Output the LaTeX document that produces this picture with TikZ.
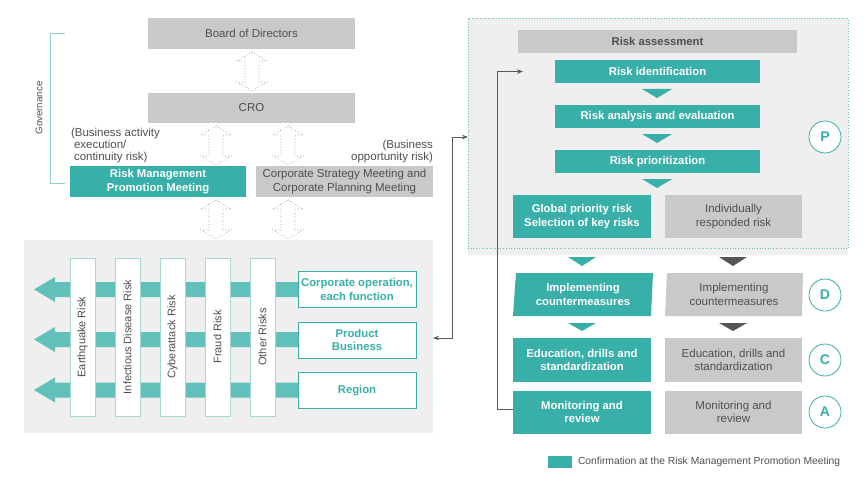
\documentclass[tikz,border=0pt]{standalone}
\usepackage{fontspec}
\setmainfont{Liberation Sans}
\usetikzlibrary{arrows.meta,calc}
\definecolor{teal1}{HTML}{38AFA8}
\definecolor{teallt}{HTML}{62C0BA}
\definecolor{boxgray}{HTML}{C9C9C9}
\definecolor{panelgray}{HTML}{EFEFEF}
\definecolor{txtgray}{HTML}{4F4F4F}
\definecolor{darktri}{HTML}{555555}
\definecolor{barline}{HTML}{A8D8D5}
\definecolor{govline}{HTML}{8FCFCB}
\definecolor{arrgray}{HTML}{9A9A9A}
\definecolor{conngray}{HTML}{5A5A5A}
\newcommand\fsA{\fontsize{11.5}{13.5}\selectfont}
\newcommand\fsT{\fontsize{11.3}{13.5}\selectfont}
\newcommand\fsN{\fontsize{11.5}{12}\selectfont}
\newcommand\fsB{\fontsize{11}{13}\selectfont}
\newcommand\fsC{\fontsize{14}{16}\selectfont}
\newcommand\fsG{\fontsize{9.7}{11}\selectfont}
\newcommand\fsL{\fontsize{10.3}{11}\selectfont}
\newcommand\mydarr[3]{\draw[darr] (#1,#2) -- (#1+15,#2+9) -- (#1+7,#2+9) -- (#1+7,#3-9) -- (#1+15,#3-9) -- (#1,#3) -- (#1-15,#3-9) -- (#1-7,#3-9) -- (#1-7,#2+9) -- (#1-15,#2+9) -- cycle;}
\begin{document}
\begin{tikzpicture}[x=1pt,y=-1pt,
 every node/.style={inner sep=0pt, outer sep=0pt, align=center},
 tbox/.style={fill=teal1, text=white, font=\bfseries\fsT},
 gbox/.style={fill=boxgray, text=txtgray, font=\fsA},
 wbox/.style={fill=white, draw=teal1, line width=0.8pt, text=teal1, font=\bfseries\fsT, minimum width=118pt, minimum height=36pt},
 bar/.style={fill=white, draw=barline, line width=0.8pt, text=txtgray, font=\fsB, rotate=90, minimum width=158pt, minimum height=25pt},
 circ/.style={circle, fill=white, draw=teal1, line width=0.8pt, minimum size=32pt, text=teal1, font=\bfseries\fsC},
 darr/.style={draw=arrgray, dotted, line width=0.7pt},
 conn/.style={draw=conngray, line width=0.8pt, -{Stealth[length=6pt,width=4.5pt]}},
 harr/.style={fill=teallt},
]
\useasboundingbox (0,0) rectangle (868,487);

% ---------- left: governance ----------
\node[gbox, minimum width=207pt, minimum height=31pt] (bod) at (251.5,33.5) {Board of Directors};
\node[gbox, minimum width=207pt, minimum height=30pt] (cro) at (251.5,108) {CRO};
\node[tbox, minimum width=176pt, minimum height=31pt] (rmpm) at (158,181.5) {Risk Management\\Promotion Meeting};
\node[gbox, minimum width=177pt, minimum height=31pt] (csm) at (344.5,181.5) {Corporate Strategy Meeting and\\Corporate Planning Meeting};
\node[font=\fsN, text=txtgray, align=left, anchor=north west] (ann1) at (71,128) {(Business activity\\\hspace*{3pt}execution/\\\hspace*{3pt}continuity risk)};
\node[font=\fsN, text=txtgray, align=right, anchor=north east] (ann2) at (433,140) {(Business\\opportunity risk)};
\draw[govline, line width=1pt] (65,34) -- (50,34) -- (50,183) -- (65,183);
\node[rotate=90, font=\fsG, text=txtgray] (gov) at (39,108) {Governance};

\mydarr{252}{52}{91}
\mydarr{216}{126}{165}
\mydarr{288}{126}{165}
\mydarr{216}{200}{239}
\mydarr{288}{200}{239}

% ---------- left: risk matrix ----------
\node[fill=panelgray, minimum width=409pt, minimum height=193pt] (lpanel) at (228.5,336.5) {};
\fill[harr] (298,282) -- (55,282) -- (55,277) -- (34,289.5) -- (55,302) -- (55,297) -- (298,297) -- cycle;
\fill[harr] (298,332) -- (55,332) -- (55,327) -- (34,339.5) -- (55,352) -- (55,347) -- (298,347) -- cycle;
\fill[harr] (298,382.5) -- (55,382.5) -- (55,377.5) -- (34,390) -- (55,402.5) -- (55,397.5) -- (298,397.5) -- cycle;
\node[bar] (b1) at (82.5,337) {Earthquake Risk};
\node[bar] (b2) at (127.5,337) {Infectious Disease Risk};
\node[bar] (b3) at (172.5,337) {Cyberattack Risk};
\node[bar] (b4) at (217.5,337) {Fraud Risk};
\node[bar] (b5) at (262.5,337) {Other Risks};
\node[wbox] (r1) at (357,289.5) {Corporate operation,\\each function};
\node[wbox] (r2) at (357,340) {Product\\Business};
\node[wbox] (r3) at (357,390.5) {Region};

% ---------- right: risk assessment ----------
\fill[panelgray] (468,18) rectangle (848,255);
\node[draw=teallt, dotted, line width=0.7pt, minimum width=380pt, minimum height=230pt] (rpanel) at (658,133) {};
\node[gbox, font=\bfseries\fsT, minimum width=279pt, minimum height=23pt] (ra) at (657.5,41.5) {Risk assessment};
\node[tbox, minimum width=205pt, minimum height=23pt] (ident) at (657.5,71.5) {Risk identification};
\node[tbox, minimum width=205pt, minimum height=23pt] (anal) at (657.5,116.5) {Risk analysis and evaluation};
\node[tbox, minimum width=205pt, minimum height=23pt] (prio) at (657.5,161.5) {Risk prioritization};
\fill[teal1] (642,89) -- (672,89) -- (657,98) -- cycle;
\fill[teal1] (642,134) -- (672,134) -- (657,143) -- cycle;
\fill[teal1] (642,179) -- (672,179) -- (657,188) -- cycle;
\node[tbox, minimum width=138pt, minimum height=43pt] (glob) at (582,216.5) {Global priority risk\\Selection of key risks};
\node[gbox, minimum width=137pt, minimum height=43pt] (indiv) at (733.5,216.5) {Individually\\responded risk};
\node[circ] (P) at (825,137) {P};

% ---------- right: D, C, A ----------
\fill[teal1] (568,257) -- (596,257) -- (582,266) -- cycle;
\fill[darktri] (719,257) -- (747,257) -- (733,266) -- cycle;
\fill[teal1] (516,273) -- (653,273) -- (651,316) -- (513,316) -- cycle;
\fill[boxgray] (667,273) -- (803,273) -- (802,316) -- (665,316) -- cycle;
\node[text=white, font=\bfseries\fsT] (imp1) at (583,294.5) {Implementing\\countermeasures};
\node[text=txtgray, font=\fsA] (imp2) at (734,294.5) {Implementing\\countermeasures};
\fill[teal1] (568,323) -- (596,323) -- (582,331) -- cycle;
\fill[darktri] (719,323) -- (747,323) -- (733,331) -- cycle;
\node[tbox, minimum width=138pt, minimum height=44pt] (edu1) at (582,360) {Education, drills and\\standardization};
\node[gbox, minimum width=137pt, minimum height=44pt] (edu2) at (733.5,360) {Education, drills and\\standardization};
\node[tbox, minimum width=138pt, minimum height=43pt] (mon1) at (582,412) {Monitoring and\\review};
\node[gbox, minimum width=137pt, minimum height=43pt] (mon2) at (733.5,412) {Monitoring and\\review};
\node[circ] (D) at (825,295) {D};
\node[circ] (C) at (825,360) {C};
\node[circ] (A) at (825,412) {A};

% ---------- connectors ----------
\draw[conn] ([yshift=3pt]mon1.west) -- ++(-16,0) |- ([xshift=-32pt]ident.west);
\draw[conn, {Stealth[length=6pt,width=4.5pt]}-{Stealth[length=6pt,width=4.5pt]}] ([yshift=-1.5pt]lpanel.east) -- ++(19,0) |- ([yshift=-4pt]rpanel.west);

% ---------- legend ----------
\node[fill=teal1, minimum width=24pt, minimum height=12pt] (leg) at (560,462) {};
\node[anchor=west, font=\fsL, text=txtgray] (legt) at (578,462) {Confirmation at the Risk Management Promotion Meeting};
\end{tikzpicture}
\end{document}
